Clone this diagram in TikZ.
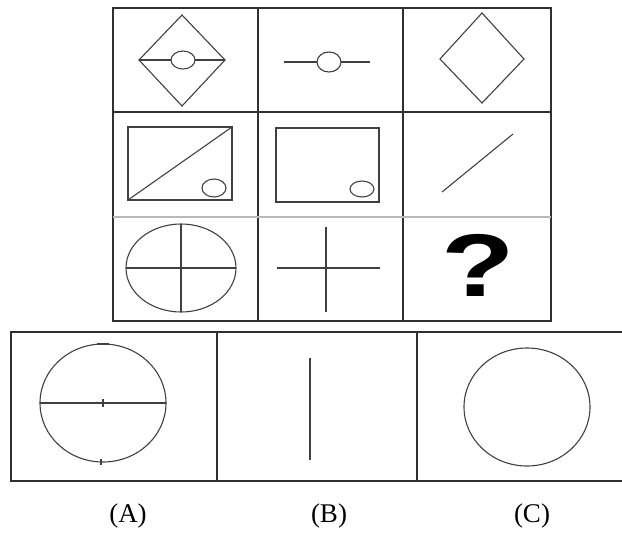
\documentclass[tikz,border=0pt]{standalone}
\usepackage{fontspec}
\setmainfont{Liberation Serif}
\newfontfamily\qfont{Liberation Sans}
\definecolor{GridGray}{HTML}{303030}
\definecolor{FigGray}{HTML}{404040}
\tikzset{
    % Table lines
    grid line/.style={
        draw=GridGray,
        line width=1.4pt
    },
    light line/.style={
        draw=gray!55,
        line width=1.2pt
    },
    % Lines of the small figures
    figure line/.style={
        draw=FigGray,
        line width=1.1pt
    },
    option label/.style={
        font=\fontsize{27}{30}\selectfont,
        inner sep=0pt
    },
    mark q/.style={
        font=\qfont\bfseries\fontsize{89}{90}\selectfont,
        xscale=1.35,
        inner sep=0pt
    }
}

\begin{document}
\begin{tikzpicture}[x=1pt, y=-1pt]
        \useasboundingbox (0,0) rectangle (622,539);

        % Upper table
        \draw[grid line] (113,8) rectangle (551,321);
        \draw[grid line] (258,8) -- (258,321);
        \draw[grid line] (403,8) -- (403,321);
        \draw[grid line] (113,112) -- (551,112);
        \draw[light line] (113,217) -- (551,217);

        % Row 1
        \draw[figure line] (182,15) -- (225,60) -- (182,106) -- (139,60) -- cycle;
        \draw[figure line] (139,60) -- (171,60);
        \draw[figure line] (195,60) -- (225,60);
        \draw[figure line] (183,60) ellipse (12 and 9);
        \draw[figure line] (284,62) -- (317,62);
        \draw[figure line] (341,62) -- (370,62);
        \draw[figure line] (329,62) ellipse (12 and 10);
        \draw[figure line] (482,13) -- (524,59) -- (482,103) -- (440,59) -- cycle;

        % Row 2
        \draw[figure line] (128,127) rectangle (232,200);
        \draw[figure line] (128,200) -- (232,127);
        \draw[figure line] (214,188) ellipse (12 and 9);
        \draw[figure line] (276,128) rectangle (379,202);
        \draw[figure line] (362,189) ellipse (12 and 8);
        \draw[figure line] (442,192) -- (513,134);

        % Row 3
        \draw[figure line] (181,268) ellipse (55 and 44);
        \draw[figure line] (126,268) -- (236,268);
        \draw[figure line] (181,224) -- (181,312);
        \draw[figure line] (277,268) -- (380,268);
        \draw[figure line] (326,227) -- (326,312);
        \node[mark q] (qmark) at (478,265) {?};

        % Answer boxes
        \draw[grid line] (622,332) -- (11,332) -- (11,481) -- (622,481);
        \draw[grid line] (217,332) -- (217,481);
        \draw[grid line] (417,332) -- (417,481);

        % Option A
        \draw[figure line] (103,403) ellipse (63 and 59);
        \draw[figure line] (40,403) -- (166,403);
        \draw[figure line] (103,399) -- (103,407);
        \draw[figure line] (101,459) -- (101,465);
        \draw[figure line] (97,344) -- (109,344);

        % Option B
        \draw[figure line] (310,358) -- (310,460);

        % Option C
        \draw[figure line] (527,407) ellipse (63 and 59);

        % Labels
        \node[option label] (labA) at (128,516) {(A)};
        \node[option label] (labB) at (329,516) {(B)};
        \node[option label] (labC) at (532,516) {(C)};
    \end{tikzpicture}
\end{document}
